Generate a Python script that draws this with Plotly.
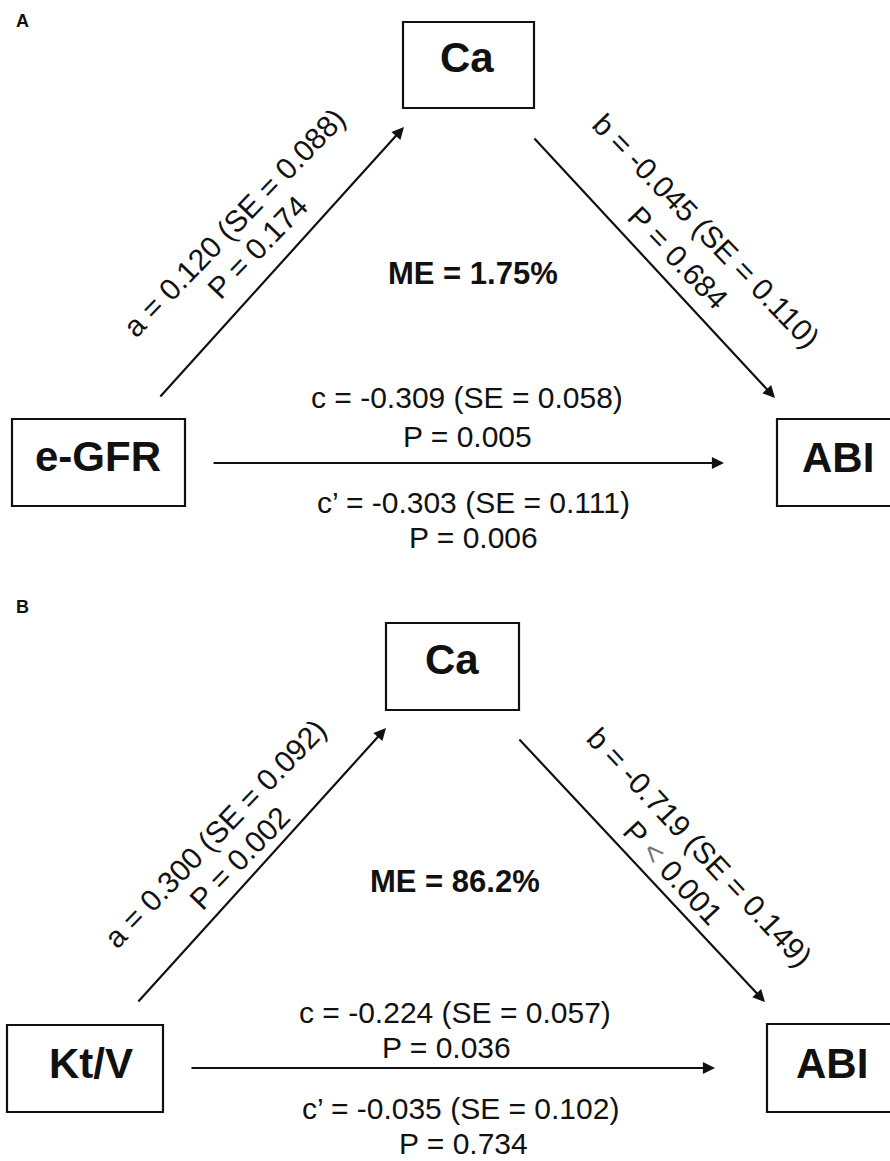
import plotly.graph_objects as go

W, H = 890, 1161

# ---------------- data ----------------
panels = ["A", "B"]
predictors = ["e-GFR", "Kt/V"]
mediators = ["Ca", "Ca"]
outcomes = ["ABI", "ABI"]
a_coef = [0.120, 0.300]
a_se = [0.088, 0.092]
a_p = ["= 0.174", "= 0.002"]
b_coef = [-0.045, -0.719]
b_se = [0.110, 0.149]
b_p = ["= 0.684", "< 0.001"]
c_coef = [-0.309, -0.224]
c_se = [0.058, 0.057]
c_p = ["= 0.005", "= 0.036"]
cp_coef = [-0.303, -0.035]
cp_se = [0.111, 0.102]
cp_p = ["= 0.006", "= 0.734"]
me_pct = ["1.75%", "86.2%"]

# ---------------- layout geometry (pixel coords, y down) ----------------
geom = [
    dict(label=(22, 21),
         med_box=(403, 22, 534, 108), med_txt=(467, 57),
         x_box=(12, 419, 185, 506), x_txt=(98, 456),
         y_box=(777, 419, 893, 506), y_txt=(838, 457),
         a_arrow=((159, 398), (404, 127)),
         b_arrow=((533, 137), (775, 398)),
         c_arrow=((212, 463), (724, 463)),
         a_l1=(234, 222), a_l2=(257, 247), a_ang=-46,
         b_l1=(706, 230), b_l2=(678, 257), b_ang=46,
         c_l1=(467, 397), c_l2=(467, 436),
         cp_l1=(473, 502), cp_l2=(473, 537),
         me=(473, 273)),
    dict(label=(22, 607),
         med_box=(386, 623, 519, 710), med_txt=(452, 659),
         x_box=(7, 1025, 163, 1112), x_txt=(91, 1063),
         y_box=(767, 1024, 893, 1112), y_txt=(832, 1063),
         a_arrow=((137, 1003), (386, 728)),
         b_arrow=((518, 738), (765, 1002)),
         c_arrow=((190, 1068), (715, 1068)),
         a_l1=(215, 833), a_l2=(239, 858), a_ang=-46,
         b_l1=(700, 847), b_l2=(673, 872), b_ang=47,
         c_l1=(455, 1012), c_l2=(446, 1047),
         cp_l1=(460, 1108), cp_l2=(463, 1143),
         me=(455, 881)),
]

FONT = "Liberation Sans, Arial, Helvetica, sans-serif"
TXT = 30
NODE = 42
ME = 31
INK = "#111111"

fig = go.Figure()
shapes = []
ann = []


def text(pos, s, size, bold=False, angle=0):
    if bold:
        s = "<b>" + s + "</b>"
    ann.append(dict(x=pos[0], y=pos[1], xref="x", yref="y", text=s,
                    showarrow=False, xanchor="center", yanchor="middle",
                    textangle=angle,
                    font=dict(family=FONT, size=size, color=INK)))


def arrow(seg):
    (x0, y0), (x1, y1) = seg
    ann.append(dict(x=x1, y=y1, ax=x0, ay=y0, xref="x", yref="y",
                    axref="x", ayref="y", text="", showarrow=True,
                    arrowhead=2, arrowsize=1.1, arrowwidth=2.2,
                    arrowcolor=INK, standoff=0, startstandoff=0))


def box(b):
    shapes.append(dict(type="rect", xref="x", yref="y", x0=b[0], y0=b[1],
                       x1=b[2], y1=b[3], line=dict(color=INK, width=2.2),
                       fillcolor="rgba(0,0,0,0)"))


def pfmt(p):
    if p.startswith("<"):
        return "P <span style='color:#777777'>&lt;</span>" + p[1:]
    return "P " + p


for i, g in enumerate(geom):
    text(g["label"], panels[i], 18, bold=True)
    box(g["med_box"]); box(g["x_box"]); box(g["y_box"])
    text(g["med_txt"], mediators[i], NODE, bold=True)
    text(g["x_txt"], predictors[i], NODE, bold=True)
    text(g["y_txt"], outcomes[i], NODE, bold=True)
    arrow(g["a_arrow"]); arrow(g["b_arrow"]); arrow(g["c_arrow"])
    text(g["a_l1"], f"a = {a_coef[i]:.3f} (SE = {a_se[i]:.3f})", TXT, angle=g["a_ang"])
    text(g["a_l2"], pfmt(a_p[i]), TXT, angle=g["a_ang"])
    text(g["b_l1"], f"b = {b_coef[i]:.3f} (SE = {b_se[i]:.3f})", TXT, angle=g["b_ang"])
    text(g["b_l2"], pfmt(b_p[i]), TXT, angle=g["b_ang"])
    text(g["c_l1"], f"c = {c_coef[i]:.3f} (SE = {c_se[i]:.3f})", TXT)
    text(g["c_l2"], pfmt(c_p[i]), TXT)
    text(g["cp_l1"], f"c\u2019 = {cp_coef[i]:.3f} (SE = {cp_se[i]:.3f})", TXT)
    text(g["cp_l2"], pfmt(cp_p[i]), TXT)
    text(g["me"], f"ME = {me_pct[i]}", ME, bold=True)

fig.update_layout(
    width=W, height=H,
    margin=dict(l=0, r=0, t=0, b=0),
    paper_bgcolor="white", plot_bgcolor="white",
    xaxis=dict(range=[0, W], visible=False, fixedrange=True),
    yaxis=dict(range=[H, 0], visible=False, fixedrange=True),
    shapes=shapes, annotations=ann, showlegend=False,
)

fig.write_html("out.html", config={"displayModeBar": False},
               post_script="document.body.style.margin='0px';")
